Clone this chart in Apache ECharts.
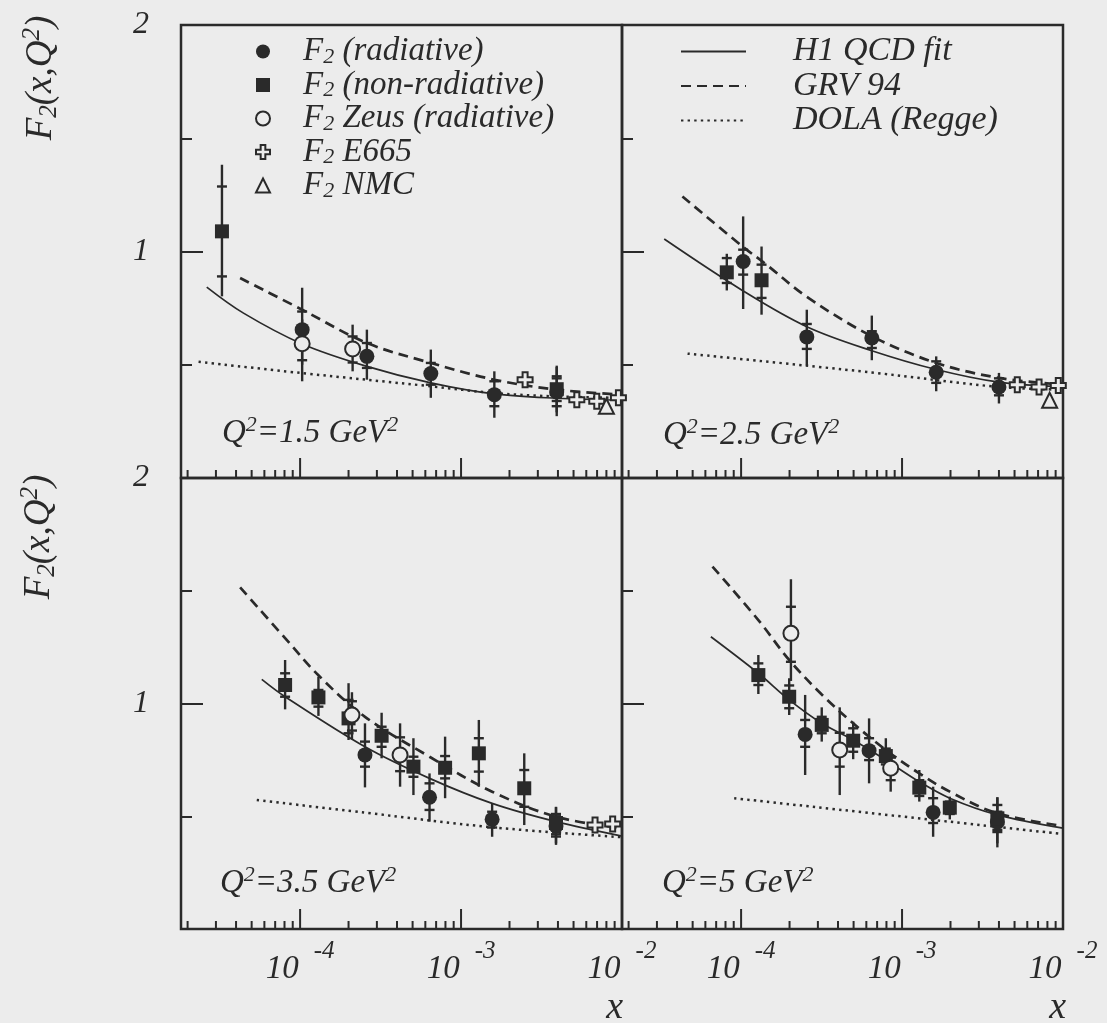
<!DOCTYPE html>
<html><head><meta charset="utf-8">
<script src="https://cdn.jsdelivr.net/npm/echarts@6/dist/echarts.min.js"></script>
<style>html,body{margin:0;padding:0;background:#ececec}#c{width:1107px;height:1023px}</style>
</head><body><div id="c"></div><script>
// ---------- DATA ----------
// point rows: [x, F2, statLo, statHi, totLo, totHi]
// Panel A: Q2 = 1.5 GeV2
const radA = [
  [1.03e-4, 0.655, 0.580, 0.735, 0.500, 0.840],
  [2.60e-4, 0.537, 0.486, 0.596, 0.434, 0.655],
  [6.49e-4, 0.461, 0.412, 0.508, 0.354, 0.567],
  [1.61e-3, 0.368, 0.317, 0.427, 0.266, 0.471],
  [3.93e-3, 0.380, 0.317, 0.449, 0.273, 0.496]
];
const nonradA = [
  [3.27e-5, 1.089, 0.890, 1.287, 0.802, 1.383],
  [3.93e-3, 0.392, 0.340, 0.440, 0.290, 0.490]
];
const zeusA = [
  [1.03e-4, 0.593, 0.520, 0.660, 0.427, 0.700],
  [2.12e-4, 0.570, 0.510, 0.625, 0.471, 0.677]
];
const e665A = [[2.50e-3, 0.434], [5.24e-3, 0.346], [6.97e-3, 0.339], [9.50e-3, 0.354]];
const nmcA = [[8.00e-3, 0.317]];
const h1A_x = [2.63e-5, 4.45e-5, 1.03e-4, 2.60e-4, 6.49e-4, 1.61e-3, 3.93e-3, 1.0e-2];
const h1A_y = [0.843, 0.728, 0.592, 0.493, 0.420, 0.371, 0.352, 0.343];
const grvA_x = [4.24e-5, 1.03e-4, 2.60e-4, 6.49e-4, 1.61e-3, 3.93e-3, 1.0e-2];
const grvA_y = [0.883, 0.743, 0.596, 0.508, 0.434, 0.390, 0.368];
const dolaA_x = [2.34e-5, 1.03e-4, 6.49e-4, 1.61e-3, 3.93e-3, 1.0e-2];
const dolaA_y = [0.513, 0.463, 0.405, 0.375, 0.360, 0.354];

// Panel B: Q2 = 2.5 GeV2
const radB = [
  [1.03e-4, 0.956, 0.898, 1.008, 0.746, 1.155],
  [2.56e-4, 0.623, 0.570, 0.680, 0.496, 0.743],
  [6.49e-4, 0.618, 0.574, 0.648, 0.520, 0.717],
  [1.63e-3, 0.467, 0.420, 0.515, 0.383, 0.537],
  [4.00e-3, 0.402, 0.365, 0.440, 0.329, 0.464]
];
const nonradB = [
  [8.15e-5, 0.908, 0.861, 0.971, 0.828, 0.990],
  [1.34e-4, 0.873, 0.795, 0.942, 0.721, 1.022]
];
const zeusB = [];
const e665B = [[5.20e-3, 0.412], [7.10e-3, 0.402], [9.35e-3, 0.408]];
const nmcB = [[8.26e-3, 0.343]];
const h1B_x = [3.33e-5, 1.03e-4, 2.56e-4, 6.49e-4, 1.63e-3, 4.00e-3, 1.0e-2];
const h1B_y = [1.055, 0.826, 0.668, 0.562, 0.479, 0.423, 0.402];
const grvB_x = [4.32e-5, 1.03e-4, 1.42e-4, 2.56e-4, 6.49e-4, 1.63e-3, 4.00e-3, 1.0e-2];
const grvB_y = [1.243, 1.020, 0.945, 0.800, 0.626, 0.508, 0.442, 0.412];
const dolaB_x = [4.65e-5, 6.49e-4, 4.00e-3, 1.0e-2];
const dolaB_y = [0.549, 0.466, 0.402, 0.390];

// Panel C: Q2 = 3.5 GeV2
const radC = [
  [2.53e-4, 0.772, 0.720, 0.831, 0.628, 0.912],
  [6.37e-4, 0.584, 0.528, 0.646, 0.476, 0.690],
  [1.56e-3, 0.486, 0.450, 0.520, 0.409, 0.557],
  [3.89e-3, 0.457, 0.410, 0.500, 0.373, 0.542]
];
const nonradC = [
  [8.07e-5, 1.082, 1.030, 1.134, 0.974, 1.193],
  [1.30e-4, 1.027, 0.986, 1.060, 0.945, 1.119],
  [2.00e-4, 0.934, 0.868, 1.016, 0.838, 1.090],
  [3.21e-4, 0.857, 0.808, 0.897, 0.757, 0.959],
  [5.06e-4, 0.720, 0.675, 0.764, 0.594, 0.846],
  [7.96e-4, 0.715, 0.668, 0.767, 0.580, 0.853],
  [1.29e-3, 0.779, 0.698, 0.846, 0.631, 0.927],
  [2.47e-3, 0.624, 0.542, 0.705, 0.461, 0.779],
  [3.89e-3, 0.470, 0.420, 0.510, 0.380, 0.540]
];
const zeusC = [
  [2.10e-4, 0.949, 0.880, 1.010, 0.840, 1.050],
  [4.18e-4, 0.772, 0.700, 0.850, 0.631, 0.912]
];
const e665C = [[6.80e-3, 0.461], [8.75e-3, 0.466]];
const nmcC = [];
const h1C_x = [5.78e-5, 8.07e-5, 2.53e-4, 6.37e-4, 1.56e-3, 3.89e-3, 1.0e-2];
const h1C_y = [1.107, 1.030, 0.808, 0.668, 0.557, 0.476, 0.412];
const grvC_x = [4.24e-5, 8.07e-5, 1.30e-4, 2.53e-4, 6.37e-4, 1.56e-3, 3.89e-3, 1.0e-2];
const grvC_y = [1.515, 1.290, 1.125, 0.941, 0.764, 0.609, 0.498, 0.447];
const dolaC_x = [5.38e-5, 2.53e-4, 1.56e-3, 1.0e-2];
const dolaC_y = [0.572, 0.516, 0.451, 0.407];

// Panel D: Q2 = 5 GeV2
const radD = [
  [2.50e-4, 0.863, 0.808, 0.927, 0.683, 1.038],
  [6.24e-4, 0.791, 0.749, 0.846, 0.646, 0.934],
  [1.56e-3, 0.517, 0.470, 0.580, 0.409, 0.631],
  [3.91e-3, 0.475, 0.430, 0.520, 0.362, 0.584]
];
const nonradD = [
  [1.28e-4, 1.126, 1.082, 1.178, 1.042, 1.215],
  [1.99e-4, 1.030, 0.979, 1.080, 0.949, 1.112],
  [3.17e-4, 0.905, 0.868, 0.941, 0.831, 0.983],
  [4.97e-4, 0.835, 0.786, 0.890, 0.753, 0.919],
  [7.93e-4, 0.767, 0.730, 0.800, 0.698, 0.846],
  [1.28e-3, 0.627, 0.590, 0.660, 0.565, 0.705],
  [1.98e-3, 0.538, 0.510, 0.565, 0.486, 0.587],
  [3.91e-3, 0.491, 0.440, 0.550, 0.380, 0.584]
];
const zeusD = [
  [2.04e-4, 1.311, 1.185, 1.429, 1.100, 1.551],
  [4.10e-4, 0.794, 0.720, 0.870, 0.594, 0.983],
  [8.50e-4, 0.713, 0.660, 0.760, 0.609, 0.786]
];
const e665D = [];
const nmcD = [];
const h1D_x = [6.49e-5, 1.28e-4, 1.99e-4, 3.17e-4, 4.97e-4, 7.93e-4, 1.28e-3, 1.98e-3, 3.91e-3, 1.0e-2];
const h1D_y = [1.296, 1.134, 1.016, 0.912, 0.838, 0.749, 0.653, 0.580, 0.506, 0.447];
const grvD_x = [6.64e-5, 1.28e-4, 1.99e-4, 3.17e-4, 4.97e-4, 7.93e-4, 1.28e-3, 1.98e-3, 3.91e-3, 1.0e-2];
const grvD_y = [1.607, 1.370, 1.193, 1.040, 0.912, 0.794, 0.690, 0.609, 0.513, 0.457];
const dolaD_x = [9.06e-5, 1.0e-2];
const dolaD_y = [0.580, 0.421];

// axes / ticks / labels
const X_MIN = 1.82e-5, X_MAX = 1.0e-2;
const xMajorTicks = [1e-4, 1e-3, 1e-2];
const xMinorTicks = [2e-5, 3e-5, 4e-5, 5e-5, 6e-5, 7e-5, 8e-5, 9e-5,
                     2e-4, 3e-4, 4e-4, 5e-4, 6e-4, 7e-4, 8e-4, 9e-4,
                     2e-3, 3e-3, 4e-3, 5e-3, 6e-3, 7e-3, 8e-3, 9e-3];
const yLabelValues = [1, 2];
const panelLabels = ['=1.5 GeV', '=2.5 GeV', '=3.5 GeV', '=5 GeV'];
const NAME_RAD = 'F2 (radiative)', NAME_NONRAD = 'F2 (non-radiative)', NAME_ZEUS = 'F2 Zeus (radiative)',
      NAME_E665 = 'F2 E665', NAME_NMC = 'F2 NMC', NAME_H1 = 'H1 QCD fit', NAME_GRV = 'GRV 94', NAME_DOLA = 'DOLA (Regge)';

// ---------- STYLE ----------
const INK = '#2a2a2a', BG = '#ececec', FONT = 'Liberation Serif';
const T = (size, extra) => Object.assign({fontFamily: FONT, fontStyle: 'italic', fontSize: size, color: INK}, extra || {});
const G = (size, extra) => Object.assign({fontFamily: FONT, fontStyle: 'italic', fontSize: size, fill: INK}, extra || {});

const GRIDS = [
  {left: 181, top: 25, width: 441, height: 453},
  {left: 622, top: 25, width: 441, height: 453},
  {left: 181, top: 478, width: 441, height: 451},
  {left: 622, top: 478, width: 441, height: 451}
];

const panels = [
  {rad: radA, nonrad: nonradA, zeus: zeusA, e665: e665A, nmc: nmcA, h1: [h1A_x, h1A_y], grv: [grvA_x, grvA_y], dola: [dolaA_x, dolaA_y]},
  {rad: radB, nonrad: nonradB, zeus: zeusB, e665: e665B, nmc: nmcB, h1: [h1B_x, h1B_y], grv: [grvB_x, grvB_y], dola: [dolaB_x, dolaB_y]},
  {rad: radC, nonrad: nonradC, zeus: zeusC, e665: e665C, nmc: nmcC, h1: [h1C_x, h1C_y], grv: [grvC_x, grvC_y], dola: [dolaC_x, dolaC_y]},
  {rad: radD, nonrad: nonradD, zeus: zeusD, e665: e665D, nmc: nmcD, h1: [h1D_x, h1D_y], grv: [grvD_x, grvD_y], dola: [dolaD_x, dolaD_y]}
];

function expLabel(v) {
  const e = Math.log10(v), r = Math.round(e);
  if (Math.abs(e - r) > 1e-6) return '';
  return '{n|10}{s|' + r + '}';
}

const xAxes = GRIDS.map((g, i) => ({
  type: 'log', logBase: 10, gridIndex: i, min: X_MIN, max: X_MAX,
  axisLine: {show: false}, axisTick: {show: false}, splitLine: {show: false}, minorTick: {show: false},
  axisLabel: {
    show: i >= 2, margin: 2, formatter: expLabel, hideOverlap: false,
    rich: {
      n: T(33, {lineHeight: 36, padding: [22, 0, 0, 0], verticalAlign: 'top'}),
      s: T(25, {lineHeight: 40, verticalAlign: 'top', padding: [8, 0, 0, 15]})
    }
  }
}));

const yAxes = GRIDS.map((g, i) => ({
  type: 'value', gridIndex: i, min: 0, max: 2, interval: 1,
  axisLine: {show: false},
  axisTick: {show: true, inside: true, length: 22, lineStyle: {color: INK, width: 2}},
  minorTick: {show: true, splitNumber: 2, length: 11, lineStyle: {color: INK, width: 2}},
  splitLine: {show: false}, minorSplitLine: {show: false},
  axisLabel: {show: i % 2 === 0, margin: 32, formatter: v => yLabelValues.indexOf(v) >= 0 ? String(v) : '',
    fontFamily: FONT, fontStyle: 'italic', fontSize: 32, color: INK, padding: [5, 0, 0, 0]}
}));

const crossPath = 'path://M4,0 L8,0 L8,4 L12,4 L12,8 L8,8 L8,12 L4,12 L4,8 L0,8 L0,4 L4,4 Z';
const tickData = xMajorTicks.map(v => [v, 1]).concat(xMinorTicks.map(v => [v, 0]));

const series = [];
panels.forEach((p, i) => {
  const common = {xAxisIndex: i, yAxisIndex: i};
  const mkLine = (name, xy, ls) => Object.assign({
    type: 'line', name, data: xy[0].map((x, k) => [x, xy[1][k]]),
    symbol: 'none', showSymbol: false, smooth: 0.35, z: 2,
    lineStyle: Object.assign({color: INK}, ls), itemStyle: {color: INK}, silent: true
  }, common);
  series.push(mkLine(NAME_H1, p.h1, {width: 1.7, type: 'solid'}));
  series.push(mkLine(NAME_GRV, p.grv, {width: 2.7, type: [10, 6]}));
  series.push(mkLine(NAME_DOLA, p.dola, {width: 2.5, type: [2.4, 4.2]}));
  // x ticks
  series.push(Object.assign({
    type: 'custom', name: 'xticks', data: tickData, encode: {x: 0, y: 1}, z: 5, silent: true,
    renderItem: (params, api) => {
      const c = api.coord([api.value(0), 0]);
      const len = api.value(1) ? 20 : 8;
      return {type: 'line', shape: {x1: c[0], y1: c[1], x2: c[0], y2: c[1] - len},
        style: {stroke: INK, lineWidth: 2}};
    }
  }, common));
  // error bars
  const errs = p.rad.concat(p.nonrad, p.zeus);
  series.push(Object.assign({
    type: 'custom', name: 'err', data: errs, encode: {x: 0, y: 1}, z: 3, silent: true,
    renderItem: (params, api) => {
      const x = api.value(0);
      const cx = api.coord([x, api.value(1)])[0];
      const yTL = api.coord([x, api.value(4)])[1], yTH = api.coord([x, api.value(5)])[1];
      const ySL = api.coord([x, api.value(2)])[1], ySH = api.coord([x, api.value(3)])[1];
      const st = {stroke: INK, lineWidth: 2.4};
      return {type: 'group', children: [
        {type: 'line', shape: {x1: cx, y1: yTH, x2: cx, y2: yTL}, style: st},
        {type: 'line', shape: {x1: cx - 5, y1: ySH, x2: cx + 5, y2: ySH}, style: st},
        {type: 'line', shape: {x1: cx - 5, y1: ySL, x2: cx + 5, y2: ySL}, style: st}
      ]};
    }
  }, common));
  const mkSc = (name, arr, symbol, size, style) => Object.assign({
    type: 'scatter', name, data: arr.map(d => [d[0], d[1]]), symbol, symbolSize: size, z: 4,
    itemStyle: style, silent: true
  }, common);
  const open = {color: BG, borderColor: INK, borderWidth: 2, opacity: 1};
  series.push(mkSc(NAME_RAD, p.rad, 'circle', 15, {color: INK, opacity: 1}));
  series.push(mkSc(NAME_NONRAD, p.nonrad, 'rect', 14, {color: INK, opacity: 1}));
  series.push(mkSc(NAME_ZEUS, p.zeus, 'circle', 15, open));
  series.push(mkSc(NAME_E665, p.e665, crossPath, 15, open));
  series.push(mkSc(NAME_NMC, p.nmc, 'triangle', 15, open));
});

const LEG_RICH = {};
LEG_RICH[NAME_RAD] = '{f|F}{sub|2}{i| (radiative)}';
LEG_RICH[NAME_NONRAD] = '{f|F}{sub|2}{i| (non-radiative)}';
LEG_RICH[NAME_ZEUS] = '{f|F}{sub|2}{i| Zeus (radiative)}';
LEG_RICH[NAME_E665] = '{f|F}{sub|2}{i| E665}';
LEG_RICH[NAME_NMC] = '{f|F}{sub|2}{i| NMC}';

const yNameText = '{i|F}{sub|2}{i|(x,Q}{sup|2}{i|)}';
const yNameRich = {
  i: G(37, {lineHeight: 42}),
  sub: G(25, {lineHeight: 18, verticalAlign: 'bottom'}),
  sup: G(25, {lineHeight: 18, verticalAlign: 'top'})
};
const panelRich = {
  i: G(33, {lineHeight: 38}),
  sup: G(22, {lineHeight: 16, verticalAlign: 'top'})
};
const panelPos = [[222, 433], [663, 435], [220, 883], [662, 883]];
const xNamePos = [[623, 1008], [1066, 1008]];

const option = {
  backgroundColor: BG,
  animation: false,
  grid: GRIDS.map(g => Object.assign({show: true, borderColor: INK, borderWidth: 2.5, backgroundColor: 'transparent',
    containLabel: false, outerBoundsMode: 'none'}, g)),
  xAxis: xAxes,
  yAxis: yAxes,
  legend: [
    {
      data: [NAME_RAD, NAME_NONRAD, NAME_ZEUS, NAME_E665, NAME_NMC],
      orient: 'vertical', left: 255, top: 35, padding: 0, itemGap: 0.5,
      itemWidth: 14, itemHeight: 14, selectedMode: false,
      formatter: name => LEG_RICH[name],
      textStyle: {
        fontFamily: FONT, fontStyle: 'italic', fontSize: 33, color: INK,
        rich: {
          f: T(33, {lineHeight: 33, padding: [0, 0, 0, 28]}),
          i: T(33, {lineHeight: 33}),
          sub: T(22, {lineHeight: 16, verticalAlign: 'bottom'})
        }
      }
    },
    {
      data: [NAME_H1, NAME_GRV, NAME_DOLA],
      orient: 'vertical', left: 680, top: 34.5, padding: 0, itemGap: 0.5,
      itemWidth: 65, itemHeight: 14, selectedMode: false,
      itemStyle: {color: 'rgba(0,0,0,0)', borderColor: 'rgba(0,0,0,0)', borderWidth: 0},
      formatter: name => '{g|' + name + '}',
      textStyle: {
        fontFamily: FONT, fontStyle: 'italic', fontSize: 33, color: INK,
        rich: {g: T(34, {lineHeight: 33, padding: [0, 0, 0, 42]})}
      }
    }
  ],
  graphic: [
    {type: 'text', x: 41, y: 78, rotation: Math.PI / 2, silent: true,
      style: {text: yNameText, rich: yNameRich, align: 'center', verticalAlign: 'middle', fill: INK}},
    {type: 'text', x: 39, y: 537, rotation: Math.PI / 2, silent: true,
      style: {text: yNameText, rich: yNameRich, align: 'center', verticalAlign: 'middle', fill: INK}}
  ].concat(panelLabels.map((t, k) => ({
    type: 'text', x: panelPos[k][0], y: panelPos[k][1], silent: true,
    style: {text: '{i|Q}{sup|2}{i|' + t + '}{sup|2}', rich: panelRich, align: 'left', verticalAlign: 'middle', fill: INK}
  }))).concat(xNamePos.map(pp => ({
    type: 'text', x: pp[0], y: pp[1], silent: true,
    style: {text: 'x', fontFamily: FONT, fontStyle: 'italic', fontSize: 38, fill: INK, align: 'right', verticalAlign: 'middle'}
  }))),
  series: series
};

const chart = echarts.init(document.getElementById('c'), null, {renderer: 'canvas'});
chart.setOption(option);
</script></body></html>
